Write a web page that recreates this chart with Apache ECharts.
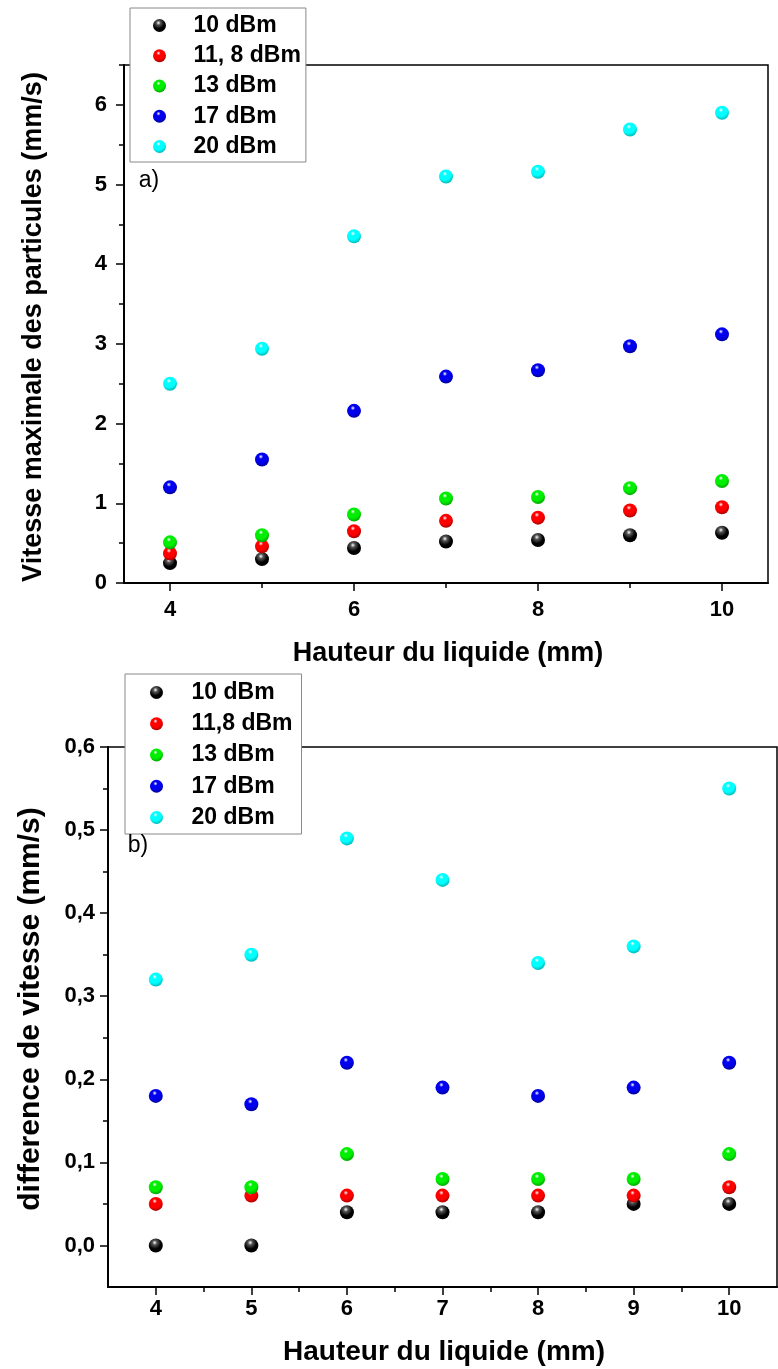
<!DOCTYPE html>
<html><head><meta charset="utf-8">
<script src="https://cdn.jsdelivr.net/npm/echarts@6/dist/echarts.min.js"></script>
<style>html,body{margin:0;padding:0;background:#fff}#c{width:778px;height:1369px}</style>
</head><body><div id="c"></div>
<script>
// ---- data ----
const heights = [4, 5, 6, 7, 8, 9, 10];
const namesA = ['10 dBm', '11, 8 dBm', '13 dBm', '17 dBm', '20 dBm'];
const namesB = ['10 dBm', '11,8 dBm', '13 dBm', '17 dBm', '20 dBm'];
// a) Vitesse maximale des particules (mm/s)
const vmax10 = [0.25, 0.30, 0.44, 0.52, 0.54, 0.60, 0.63];
const vmax118 = [0.37, 0.46, 0.65, 0.78, 0.82, 0.91, 0.95];
const vmax13 = [0.51, 0.60, 0.86, 1.06, 1.08, 1.19, 1.28];
const vmax17 = [1.20, 1.55, 2.16, 2.59, 2.67, 2.97, 3.12];
const vmax20 = [2.50, 2.94, 4.35, 5.10, 5.16, 5.69, 5.90];
// b) difference de vitesse (mm/s)
const diff10 = [0.00, 0.00, 0.04, 0.04, 0.04, 0.05, 0.05];
const diff118 = [0.05, 0.06, 0.06, 0.06, 0.06, 0.06, 0.07];
const diff13 = [0.07, 0.07, 0.11, 0.08, 0.08, 0.08, 0.11];
const diff17 = [0.18, 0.17, 0.22, 0.19, 0.18, 0.19, 0.22];
const diff20 = [0.32, 0.35, 0.49, 0.44, 0.34, 0.36, 0.55];
// ticks
const xTicksA = [4, 6, 8, 10];
const xMinorA = [5, 7, 9];
const yTicksA = [0, 1, 2, 3, 4, 5, 6];
const yMinorA = [0.5, 1.5, 2.5, 3.5, 4.5, 5.5, 6.5];
const xTicksB = [4, 5, 6, 7, 8, 9, 10];
const xMinorB = [4.5, 5.5, 6.5, 7.5, 8.5, 9.5];
const yTicksB = [0, 0.1, 0.2, 0.3, 0.4, 0.5, 0.6];
const yMinorB = [0.05, 0.15, 0.25, 0.35, 0.45, 0.55];

// ---- styling ----
const FONT = "'Liberation Sans', Arial, sans-serif";
const baseColors = ['#000000', '#ff0000', '#00ee00', '#0000ee', '#00ffff'];
const darkColors = ['#000000', '#990000', '#009900', '#000088', '#00aaaa'];
function sphere(i) {
  return {
    type: 'radial', x: 0.42, y: 0.3, r: 0.75,
    colorStops: [
      { offset: 0, color: '#ffffff' },
      { offset: 0.22, color: i === 0 ? '#555555' : baseColors[i] },
      { offset: 0.6, color: baseColors[i] },
      { offset: 1, color: darkColors[i] }
    ]
  };
}

const grids = [
  { left: 124, top: 65, width: 644, height: 518, show: true, borderColor: '#000', borderWidth: 1.5, backgroundColor: 'transparent' },
  { left: 108, top: 747, width: 669, height: 540, show: true, borderColor: '#000', borderWidth: 1.5, backgroundColor: 'transparent' }
];

function labelAxis(gridIndex, position, min, max, ticks, fmt, margin) {
  return {
    type: 'value', gridIndex, position, min, max,
    axisLine: { show: true, onZero: false, lineStyle: { color: '#000', width: 2 } },
    axisTick: { show: false },
    axisLabel: { show: true, customValues: ticks, formatter: fmt, margin, color: '#000', fontSize: 22, fontWeight: 'bold', fontFamily: FONT },
    splitLine: { show: false }
  };
}
function tickAxis(gridIndex, position, min, max, ticks, len) {
  return {
    type: 'value', gridIndex, position, min, max,
    axisLine: { show: false, onZero: false },
    axisTick: { show: true, inside: false, length: len, customValues: ticks, lineStyle: { color: '#000', width: 1.5 } },
    axisLabel: { show: false, customValues: ticks },
    splitLine: { show: false }
  };
}
const fmtInt = v => String(Math.round(v));
const fmtComma = v => v.toFixed(1).replace('.', ',');

const xAxes = [
  labelAxis(0, 'bottom', 3.5, 10.5, xTicksA, fmtInt, 16),
  tickAxis(0, 'bottom', 3.5, 10.5, xTicksA, 8),
  tickAxis(0, 'bottom', 3.5, 10.5, xMinorA, 5),
  labelAxis(1, 'bottom', 3.5, 10.5, xTicksB, fmtInt, 11),
  tickAxis(1, 'bottom', 3.5, 10.5, xTicksB, 8),
  tickAxis(1, 'bottom', 3.5, 10.5, xMinorB, 5)
];
const yAxes = [
  labelAxis(0, 'left', 0, 6.5, yTicksA, fmtInt, 17),
  tickAxis(0, 'left', 0, 6.5, yTicksA, 8),
  tickAxis(0, 'left', 0, 6.5, yMinorA, 5),
  labelAxis(1, 'left', -0.05, 0.6, yTicksB, fmtComma, 13),
  tickAxis(1, 'left', -0.05, 0.6, yTicksB, 8),
  tickAxis(1, 'left', -0.05, 0.6, yMinorB, 5)
];

const setA = [vmax10, vmax118, vmax13, vmax17, vmax20];
const setB = [diff10, diff118, diff13, diff17, diff20];
const series = [];
setA.forEach((vals, i) => series.push({
  name: namesA[i], type: 'scatter', xAxisIndex: 0, yAxisIndex: 0,
  symbol: 'circle', symbolSize: 14, itemStyle: { color: sphere(i), opacity: 1 },
  data: heights.map((h, k) => [h, vals[k]]), z: 3
}));
setB.forEach((vals, i) => series.push({
  name: namesB[i], type: 'scatter', xAxisIndex: 3, yAxisIndex: 3,
  symbol: 'circle', symbolSize: 14, itemStyle: { color: sphere(i), opacity: 1 },
  data: heights.map((h, k) => [h, vals[k]]), z: 3
}));

function legend(names, left, top, gap, pad, w) {
  return {
    data: names, orient: 'vertical', left, top,
    backgroundColor: '#fff', borderColor: '#888', borderWidth: 1,
    padding: pad, itemGap: gap, itemWidth: w, itemHeight: 13,
    icon: 'circle', selectedMode: false, z: 10,
    textStyle: { fontSize: 23, fontWeight: 'bold', fontFamily: FONT, color: '#000', lineHeight: 22 }
  };
}

const titleStyle = { fontSize: 27, fontWeight: 'bold', fontFamily: FONT, fill: '#000', align: 'center', verticalAlign: 'middle' };

const option = {
  animation: false,
  backgroundColor: '#fff',
  grid: grids,
  xAxis: xAxes,
  yAxis: yAxes,
  legend: [
    legend(namesA, 130, 8, 7.25, [6, 5, 4, 23], 58),
    legend(namesB, 125, 674, 8.25, [7, 9, 5, 25], 60)
  ],
  series,
  graphic: [
    { type: 'text', x: 448, y: 654, z: 20, style: Object.assign({ text: 'Hauteur du liquide (mm)' }, titleStyle) },
    { type: 'text', x: 444, y: 1352, z: 20, style: Object.assign({ text: 'Hauteur du liquide (mm)' }, titleStyle, { fontSize: 28 }) },
    { type: 'text', x: 34, y: 327, rotation: Math.PI / 2, z: 20, style: Object.assign({ text: 'Vitesse maximale des particules (mm/s)' }, titleStyle) },
    { type: 'text', x: 31, y: 1009, rotation: Math.PI / 2, z: 20, style: Object.assign({ text: 'difference de vitesse (mm/s)' }, titleStyle, { fontSize: 30 }) },
    { type: 'text', x: 149, y: 181, z: 20, style: { text: 'a)', fontSize: 23, fontFamily: FONT, fill: '#000', align: 'center', verticalAlign: 'middle' } },
    { type: 'text', x: 138, y: 846, z: 20, style: { text: 'b)', fontSize: 23, fontFamily: FONT, fill: '#000', align: 'center', verticalAlign: 'middle' } }
  ]
};

const chart = echarts.init(document.getElementById('c'), null, { renderer: 'canvas' });
chart.setOption(option);
</script>
</body></html>
